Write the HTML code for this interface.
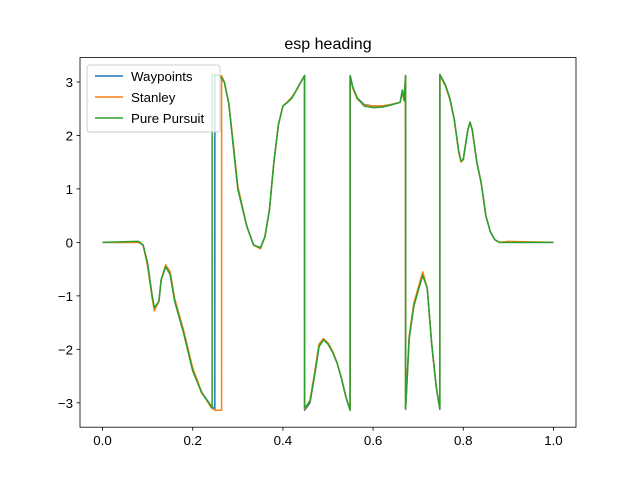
<!DOCTYPE html>
<html><head><meta charset="utf-8"><style>
body{margin:0;background:#fff}
svg text{font-family:"Liberation Sans","DejaVu Sans",sans-serif;fill:#000}
</style></head><body>
<svg id="chart" width="640" height="480" viewBox="0 0 640 480" xmlns="http://www.w3.org/2000/svg">
<rect width="640" height="480" fill="#fff"/>
<text x="328" y="49" font-size="16" text-anchor="middle">esp heading</text>
<g id="plot"></g>
<rect x="80" y="57.6" width="496" height="369.6" fill="none" stroke="#000" stroke-width="0.8"/>
<g id="ticks"></g>
<g>
<rect x="87" y="65" width="133" height="67" rx="3" fill="#fff" fill-opacity="0.8" stroke="#ccc"/>
<line x1="95" y1="76" x2="123" y2="76" stroke="#1f77b4" stroke-width="1.5"/>
<text x="131" y="81" font-size="13.3">Waypoints</text>
<line x1="95" y1="97" x2="123" y2="97" stroke="#ff7f0e" stroke-width="1.5"/>
<text x="131" y="102" font-size="13.3">Stanley</text>
<line x1="95" y1="118" x2="123" y2="118" stroke="#2ca02c" stroke-width="1.5"/>
<text x="131" y="123" font-size="13.3">Pure Pursuit</text>
</g>
</svg>
<script>
const xTicks=[0,0.2,0.4,0.6,0.8,1.0];
const xTickLabels=["0.0","0.2","0.4","0.6","0.8","1.0"];
const yTicks=[-3,-2,-1,0,1,2,3];
const yTickLabels=["−3","−2","−1","0","1","2","3"];
const waypointsX=[0,0.08,0.09,0.1,0.11,0.115,0.125,0.13,0.14,0.15,0.16,0.18,0.2,0.22,0.24,0.249,0.2491,0.26,0.27,0.28,0.29,0.3,0.32,0.335,0.35,0.36,0.37,0.38,0.39,0.4,0.41,0.42,0.43,0.44,0.448,0.4481,0.46,0.47,0.48,0.49,0.5,0.51,0.52,0.53,0.54,0.549,0.5491,0.555,0.565,0.58,0.6,0.62,0.64,0.66,0.665,0.669,0.672,0.6721,0.68,0.69,0.7,0.71,0.72,0.73,0.74,0.748,0.7481,0.76,0.77,0.78,0.79,0.795,0.8,0.81,0.815,0.82,0.83,0.84,0.85,0.86,0.87,0.88,1.0];
const waypointsY=[0,0,-0.05,-0.4,-1.0,-1.25,-1.1,-0.7,-0.45,-0.6,-1.1,-1.7,-2.4,-2.8,-3.05,-3.12,3.14,3.12,3.0,2.6,1.8,1.0,0.3,-0.05,-0.1,0.1,0.6,1.5,2.2,2.55,2.62,2.7,2.85,3.0,3.12,-3.14,-3.0,-2.5,-1.95,-1.82,-1.9,-2.05,-2.25,-2.55,-2.9,-3.14,3.12,2.9,2.7,2.58,2.55,2.55,2.58,2.62,2.85,2.65,3.12,-3.12,-1.8,-1.2,-0.9,-0.6,-0.85,-1.9,-2.7,-3.12,3.14,2.95,2.7,2.3,1.7,1.52,1.55,2.1,2.25,2.1,1.5,1.1,0.5,0.2,0.05,0,0];
const stanleyX=[0,0.08,0.09,0.1,0.11,0.115,0.125,0.13,0.14,0.15,0.16,0.18,0.2,0.22,0.24,0.25,0.264,0.2641,0.27,0.28,0.29,0.3,0.32,0.335,0.35,0.36,0.37,0.38,0.39,0.4,0.41,0.42,0.43,0.44,0.448,0.4481,0.46,0.47,0.48,0.49,0.5,0.51,0.52,0.53,0.54,0.549,0.5491,0.555,0.565,0.58,0.6,0.62,0.64,0.66,0.665,0.669,0.672,0.6721,0.68,0.69,0.7,0.71,0.72,0.73,0.74,0.748,0.7481,0.76,0.77,0.78,0.79,0.795,0.8,0.81,0.815,0.82,0.83,0.84,0.85,0.86,0.87,0.88,0.9,1.0];
const stanleyY=[0,0,-0.05,-0.45,-1.05,-1.28,-1.1,-0.7,-0.42,-0.55,-1.05,-1.65,-2.35,-2.8,-3.08,-3.14,-3.14,3.12,3.0,2.6,1.85,1.05,0.3,-0.05,-0.12,0.1,0.6,1.5,2.2,2.55,2.63,2.72,2.85,3.0,3.12,-3.12,-2.95,-2.45,-1.9,-1.8,-1.88,-2.03,-2.25,-2.55,-2.9,-3.12,3.1,2.88,2.68,2.57,2.55,2.55,2.58,2.62,2.8,2.65,3.1,-3.1,-1.75,-1.15,-0.85,-0.55,-0.85,-1.9,-2.7,-3.1,3.12,2.93,2.68,2.3,1.68,1.5,1.55,2.1,2.25,2.1,1.5,1.1,0.5,0.2,0.05,0,0.02,0];
const pursuitX=[0,0.08,0.09,0.1,0.11,0.115,0.125,0.13,0.14,0.15,0.16,0.18,0.2,0.22,0.24,0.243,0.2431,0.26,0.27,0.28,0.29,0.3,0.32,0.335,0.35,0.36,0.37,0.38,0.39,0.4,0.41,0.42,0.43,0.44,0.448,0.4481,0.46,0.47,0.48,0.49,0.5,0.51,0.52,0.53,0.54,0.549,0.5491,0.555,0.565,0.58,0.6,0.62,0.64,0.66,0.665,0.669,0.672,0.6721,0.68,0.69,0.7,0.71,0.72,0.73,0.74,0.748,0.7481,0.76,0.77,0.78,0.79,0.795,0.8,0.81,0.815,0.82,0.83,0.84,0.85,0.86,0.87,0.88,1.0];
const pursuitY=[0,0.02,-0.05,-0.4,-1.0,-1.22,-1.1,-0.7,-0.45,-0.6,-1.1,-1.7,-2.4,-2.82,-3.05,-3.1,3.14,3.12,3.0,2.6,1.8,1.0,0.3,-0.05,-0.1,0.1,0.6,1.5,2.2,2.55,2.62,2.7,2.85,3.0,3.12,-3.1,-2.98,-2.5,-1.95,-1.82,-1.9,-2.05,-2.25,-2.55,-2.9,-3.14,3.12,2.9,2.7,2.55,2.52,2.53,2.57,2.62,2.85,2.65,3.12,-3.12,-1.8,-1.2,-0.9,-0.62,-0.85,-1.9,-2.7,-3.12,3.14,2.95,2.7,2.3,1.7,1.52,1.55,2.1,2.25,2.1,1.5,1.1,0.5,0.2,0.05,0,0];
const NS="http://www.w3.org/2000/svg";
const xMin=-0.05,xMax=1.05,yMin=-3.456,yMax=3.456;
const L=80,R=576,T=57.6,B=427.2;
function sx(v){return L+(v-xMin)/(xMax-xMin)*(R-L);}
function sy(v){return B-(v-yMin)/(yMax-yMin)*(B-T);}
const plot=document.getElementById('plot');
function line(xs,ys,color,name){
  const p=document.createElementNS(NS,'polyline');
  p.setAttribute('points',xs.map((x,i)=>sx(x).toFixed(2)+','+sy(ys[i]).toFixed(2)).join(' '));
  p.setAttribute('fill','none');p.setAttribute('stroke',color);p.setAttribute('stroke-width','1.5');
  p.setAttribute('stroke-linejoin','round');
  
  
  plot.appendChild(p);
}
line(waypointsX,waypointsY,'#1f77b4','waypoints-line');
line(stanleyX,stanleyY,'#ff7f0e','stanley-line');
line(pursuitX,pursuitY,'#2ca02c','pure-pursuit-line');
const tg=document.getElementById('ticks');
xTicks.forEach((v,i)=>{
  const x=sx(v);
  const l=document.createElementNS(NS,'line');
  l.setAttribute('x1',x);l.setAttribute('x2',x);l.setAttribute('y1',B);l.setAttribute('y2',B+3.5);
  l.setAttribute('stroke','#000');l.setAttribute('stroke-width','0.8');
  
  
  tg.appendChild(l);
  const t=document.createElementNS(NS,'text');
  t.setAttribute('x',x);t.setAttribute('y',B+18);t.setAttribute('font-size','13.3');t.setAttribute('text-anchor','middle');
  t.textContent=xTickLabels[i];
  
  
  tg.appendChild(t);
});
yTicks.forEach((v,i)=>{
  const y=sy(v);
  const l=document.createElementNS(NS,'line');
  l.setAttribute('x1',L-3.5);l.setAttribute('x2',L);l.setAttribute('y1',y);l.setAttribute('y2',y);
  l.setAttribute('stroke','#000');l.setAttribute('stroke-width','0.8');
  
  
  tg.appendChild(l);
  const t=document.createElementNS(NS,'text');
  t.setAttribute('x',L-7);t.setAttribute('y',y+5);t.setAttribute('font-size','13.3');t.setAttribute('text-anchor','end');
  t.textContent=yTickLabels[i];
  
  
  tg.appendChild(t);
});
</script>
</body></html>
